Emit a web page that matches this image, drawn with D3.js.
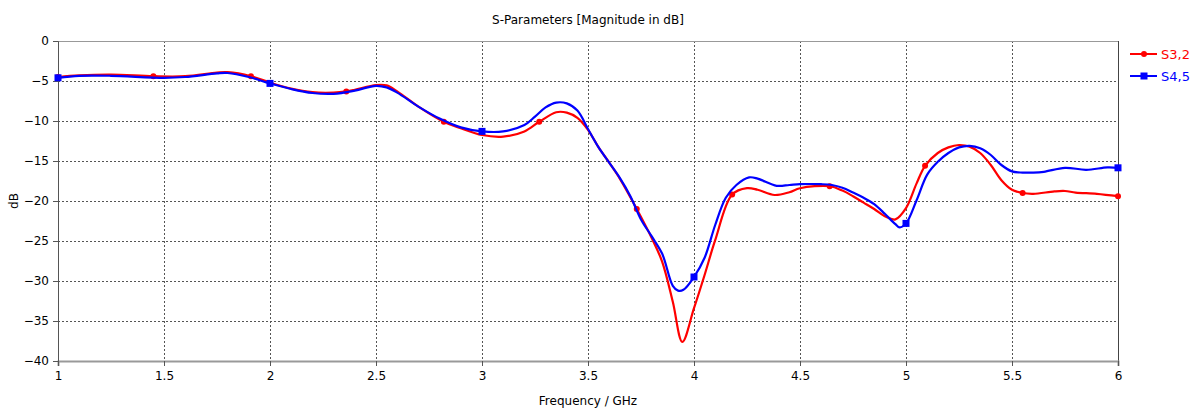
<!DOCTYPE html>
<html>
<head>
<meta charset="utf-8">
<script src="https://cdn.jsdelivr.net/npm/d3@7"></script>
<style>
  body { margin: 0; background: #fff; }
  svg text { font-family: "DejaVu Sans", Verdana, sans-serif; }
</style>
</head>
<body>
<div id="chart"></div>
<script>
// S3,2 (red) – frequency in GHz, magnitude in dB
const s32Freq = [1.0, 1.1, 1.25, 1.45, 1.6, 1.75, 1.8, 1.91, 2.0, 2.1, 2.2, 2.3, 2.36, 2.4, 2.5, 2.55, 2.6, 2.7, 2.82, 2.9,
    3.0, 3.1, 3.2, 3.27, 3.35, 3.4, 3.45, 3.5, 3.55, 3.6, 3.65, 3.73, 3.8, 3.85, 3.9, 3.945, 4.0, 4.05, 4.1, 4.18,
    4.25, 4.3, 4.38, 4.45, 4.5, 4.64, 4.7, 4.75, 4.8, 4.85, 4.9, 4.95, 5.0, 5.05, 5.09, 5.15, 5.2, 5.25, 5.3, 5.35, 5.4,
    5.45, 5.5, 5.55, 5.6, 5.7, 5.75, 5.8, 5.9, 6.0];
const s32Value = [-4.5, -4.3, -4.2, -4.4, -4.4, -3.95, -3.9, -4.4, -5.2, -5.95, -6.4, -6.45, -6.3, -6.1, -5.5, -5.55, -6.3, -8.2, -10.1, -10.9,
    -11.75, -11.95, -11.3, -10.1, -8.9, -8.95, -9.6, -11.1, -13.3, -15.2, -17.2, -21.0, -24.6, -27.6, -32.6, -37.6, -33.4, -29.25, -24.9, -19.2,
    -18.4, -18.6, -19.25, -18.9, -18.4, -18.15, -18.7, -19.4, -20.2, -21.0, -21.9, -22.3, -20.9, -17.8, -15.6, -14.0, -13.3, -13.0, -13.2, -14.0, -15.5,
    -17.4, -18.6, -19.0, -19.1, -18.8, -18.75, -18.95, -19.1, -19.4];
const s32Markers = [1.0, 1.45, 1.91, 2.36, 2.82, 3.27, 3.73, 4.18, 4.64, 5.09, 5.55, 6.0];

// S4,5 (blue)
const s45Freq = [1.0, 1.1, 1.25, 1.5, 1.6, 1.75, 1.8, 1.9, 2.0, 2.1, 2.2, 2.3, 2.4, 2.5, 2.55, 2.6, 2.7, 2.8, 2.9,
    3.0, 3.1, 3.2, 3.25, 3.3, 3.35, 3.4, 3.45, 3.5, 3.55, 3.6, 3.65, 3.7, 3.75, 3.8, 3.85, 3.9, 3.925, 3.95, 4.0,
    4.05, 4.1, 4.15, 4.2, 4.26, 4.3, 4.39, 4.45, 4.5, 4.6, 4.65, 4.7, 4.75, 4.8, 4.85, 4.9, 4.95, 4.97, 5.0, 5.05, 5.1,
    5.15, 5.2, 5.25, 5.3, 5.35, 5.4, 5.45, 5.5, 5.55, 5.6, 5.65, 5.75, 5.85, 5.95, 6.0];
const s45Value = [-4.6, -4.35, -4.35, -4.6, -4.5, -4.05, -4.0, -4.5, -5.3, -6.0, -6.5, -6.6, -6.2, -5.6, -5.8, -6.45, -8.2, -9.7, -10.8,
    -11.3, -11.3, -10.5, -9.45, -8.3, -7.7, -7.8, -8.7, -11.0, -13.3, -15.2, -17.1, -19.4, -22.3, -24.4, -26.6, -30.6, -31.2, -31.1, -29.5,
    -27.1, -23.0, -19.6, -18.0, -17.05, -17.2, -18.1, -18.0, -17.9, -17.9, -18.0, -18.35, -18.95, -19.6, -20.4, -21.6, -22.9, -23.3, -22.8, -19.9, -16.7,
    -15.1, -14.0, -13.3, -13.1, -13.4, -14.25, -15.5, -16.3, -16.45, -16.45, -16.35, -15.85, -16.1, -15.8, -15.85];
const s45Markers = [1.0, 2.0, 3.0, 4.0, 5.0, 6.0];

const xTicks = [1, 1.5, 2, 2.5, 3, 3.5, 4, 4.5, 5, 5.5, 6];
const yTicks = [0, -5, -10, -15, -20, -25, -30, -35, -40];

const margin = { top: 41, right: 80, bottom: 48, left: 58 };
const width = 1198 - margin.left - margin.right;
const height = 409 - margin.top - margin.bottom;

const x = d3.scaleLinear().domain([1, 6]).range([0, width]);
const y = d3.scaleLinear().domain([-40, 0]).range([height, 0]);

const svg = d3.select("#chart")
    .append("svg")
    .attr("width", 1198)
    .attr("height", 409);

const g = svg.append("g")
    .attr("transform", `translate(${margin.left},${margin.top})`);

// grid
g.selectAll(".grid-x")
    .data(xTicks.slice(1, -1))
    .enter().append("line")
    .attr("x1", d => Math.round(x(d)) + 0.5).attr("x2", d => Math.round(x(d)) + 0.5)
    .attr("y1", 0).attr("y2", height)
    .attr("stroke", "#555")
    .attr("stroke-dasharray", "2,2");

g.selectAll(".grid-y")
    .data(yTicks.slice(1, -1))
    .enter().append("line")
    .attr("y1", d => Math.round(y(d)) + 0.5).attr("y2", d => Math.round(y(d)) + 0.5)
    .attr("x1", 0).attr("x2", width)
    .attr("stroke", "#555")
    .attr("stroke-dasharray", "2,2");

// frame
g.append("line").attr("x1", 0).attr("x2", width).attr("y1", 0.5).attr("y2", 0.5)
    .attr("stroke", "#999");
g.append("line").attr("x1", width + 0.5).attr("x2", width + 0.5).attr("y1", 0).attr("y2", height)
    .attr("stroke", "#444");

// axes
const xAxis = g.append("g")
    .attr("transform", `translate(0,${height})`)
    .call(d3.axisBottom(x).tickValues(xTicks).tickSize(5).tickPadding(5).tickFormat(d3.format("")));
xAxis.select(".domain").attr("stroke", "#999").attr("stroke-width", 2);
xAxis.selectAll(".tick line").attr("stroke", "#555");
xAxis.selectAll(".tick text").attr("fill", "#000").style("font-size", "12px");

const yAxis = g.append("g")
    .call(d3.axisLeft(y).tickValues(yTicks).tickSize(5).tickPadding(4));
yAxis.select(".domain").attr("stroke", "#555");
yAxis.selectAll(".tick line").attr("stroke", "#555");
yAxis.selectAll(".tick text").attr("fill", "#000").style("font-size", "12px");

// labels
svg.append("text")
    .attr("x", margin.left + width / 2).attr("y", 24)
    .attr("text-anchor", "middle")
    .style("font-size", "12px")
    .text("S-Parameters [Magnitude in dB]");

svg.append("text")
    .attr("x", margin.left + width / 2).attr("y", 405)
    .attr("text-anchor", "middle")
    .style("font-size", "12px")
    .text("Frequency / GHz");

svg.append("text")
    .attr("transform", `translate(18,${margin.top + height / 2}) rotate(-90)`)
    .attr("text-anchor", "middle")
    .style("font-size", "12px")
    .text("dB");

// curves
const line = d3.line()
    .x(d => x(d.f))
    .y(d => y(d.v))
    .curve(d3.curveCatmullRom.alpha(0.5));

const s32 = s32Freq.map((f, i) => ({ f: f, v: s32Value[i] }));
const s45 = s45Freq.map((f, i) => ({ f: f, v: s45Value[i] }));

g.append("path")
    .datum(s32)
    .attr("fill", "none")
    .attr("stroke", "#ff0000")
    .attr("stroke-width", 2.2)
    .attr("d", line);

g.selectAll(".m32")
    .data(s32.filter(d => s32Markers.includes(d.f)))
    .enter().append("circle")
    .attr("cx", d => x(d.f))
    .attr("cy", d => y(d.v))
    .attr("r", 3)
    .attr("fill", "#ff0000");

g.append("path")
    .datum(s45)
    .attr("fill", "none")
    .attr("stroke", "#0000ff")
    .attr("stroke-width", 2.2)
    .attr("d", line);

g.selectAll(".m45")
    .data(s45.filter(d => s45Markers.includes(d.f)))
    .enter().append("rect")
    .attr("x", d => x(d.f) - 3.5)
    .attr("y", d => y(d.v) - 3.5)
    .attr("width", 7)
    .attr("height", 7)
    .attr("fill", "#0000ff");

// legend
const legend = svg.append("g").attr("transform", "translate(1130,0)");
const legendItems = [
    { name: "S3,2", color: "#ff0000", shape: "circle", y: 54 },
    { name: "S4,5", color: "#0000ff", shape: "square", y: 76 }
];
legendItems.forEach(item => {
    legend.append("line")
        .attr("x1", 0).attr("x2", 27)
        .attr("y1", item.y).attr("y2", item.y)
        .attr("stroke", item.color)
        .attr("stroke-width", 2);
    if (item.shape === "circle") {
        legend.append("circle").attr("cx", 14).attr("cy", item.y).attr("r", 3).attr("fill", item.color);
    } else {
        legend.append("rect").attr("x", 10.5).attr("y", item.y - 3.5).attr("width", 7).attr("height", 7).attr("fill", item.color);
    }
    legend.append("text")
        .attr("x", 31).attr("y", item.y + 4.5)
        .attr("fill", item.color)
        .style("font-size", "13px")
        .text(item.name);
});
</script>
</body>
</html>
